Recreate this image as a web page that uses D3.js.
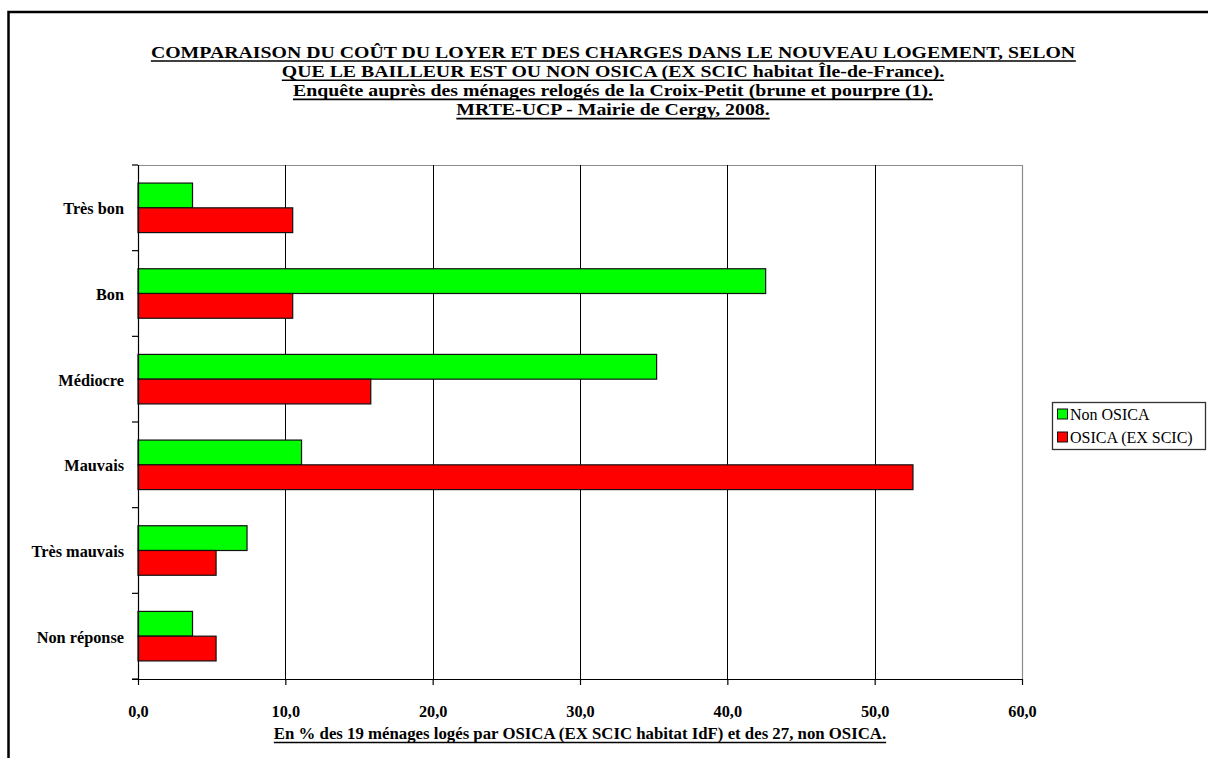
<!DOCTYPE html>
<html>
<head>
<meta charset="utf-8">
<script src="https://cdn.jsdelivr.net/npm/d3@7"></script>
<style>
  html, body { margin: 0; padding: 0; background: #fff; }
  svg { display: block; }
  text { font-family: "Liberation Serif", "Times New Roman", serif; }
</style>
</head>
<body>
<svg id="chart" width="1208" height="758"></svg>
<script>
const titleLines = [
  "COMPARAISON DU COÛT DU LOYER ET DES CHARGES DANS LE NOUVEAU LOGEMENT, SELON",
  "QUE LE BAILLEUR EST OU NON OSICA (EX SCIC habitat Île-de-France).",
  "Enquête auprès des ménages relogés de la Croix-Petit (brune et pourpre (1).",
  "MRTE-UCP - Mairie de Cergy, 2008."
];
const categories = ["Très bon", "Bon", "Médiocre", "Mauvais", "Très mauvais", "Non réponse"];
const seriesNames = ["Non OSICA", "OSICA (EX SCIC)"];
const nonOsica = [3.7, 42.6, 35.2, 11.1, 7.4, 3.7];
const osica = [10.5, 10.5, 15.8, 52.6, 5.3, 5.3];
const xTicks = [0, 10, 20, 30, 40, 50, 60];
const xAxisTitle = "En % des 19 ménages logés par OSICA (EX SCIC habitat IdF) et des 27, non OSICA.";

const colors = ["#00FF00", "#FF0000"];
const series = [nonOsica, osica];

const svg = d3.select("#chart");
const W = 1208, H = 758;
const plot = { left: 138, right: 1022, top: 165, bottom: 679 };

// outer frame
svg.append("path")
  .attr("d", `M8.5,${H + 5} L8.5,12 L${W + 5},12`)
  .attr("fill", "none").attr("stroke", "#000").attr("stroke-width", 2.5);

const x = d3.scaleLinear().domain([0, 60]).range([plot.left, plot.right]);
const y = d3.scaleBand().domain(categories).range([plot.top, plot.bottom]);
const step = y.step();
const barH = step * 0.289;

// plot border (grey top/right)
svg.append("path")
  .attr("d", `M${plot.left},${plot.top + 0.5} L${plot.right + 0.5},${plot.top + 0.5} L${plot.right + 0.5},${plot.bottom}`)
  .attr("fill", "none").attr("stroke", "#8c8c8c").attr("stroke-width", 1.2);

// gridlines
svg.append("g").selectAll("line")
  .data(xTicks.filter(d => d > 0 && d < 60))
  .join("line")
  .attr("x1", d => Math.round(x(d)) + 0.5).attr("x2", d => Math.round(x(d)) + 0.5)
  .attr("y1", plot.top).attr("y2", plot.bottom)
  .attr("stroke", "#000").attr("stroke-width", 1);

// bars
categories.forEach((c, i) => {
  const y0 = y(c) + (step - 2 * barH) / 2;
  series.forEach((s, k) => {
    svg.append("rect")
      .attr("x", x(0))
      .attr("y", y0 + k * barH)
      .attr("width", x(s[i]) - x(0))
      .attr("height", barH)
      .attr("fill", colors[k])
      .attr("stroke", "#111").attr("stroke-width", 1.2);
  });
});

// left axis: line + boundary ticks
const yAxisG = svg.append("g");
yAxisG.append("line")
  .attr("x1", plot.left + 0.5).attr("x2", plot.left + 0.5)
  .attr("y1", plot.top).attr("y2", plot.bottom)
  .attr("stroke", "#000").attr("stroke-width", 1.2);
yAxisG.selectAll("line.b")
  .data(d3.range(categories.length + 1))
  .join("line").attr("class", "b")
  .attr("x1", plot.left - 6).attr("x2", plot.left)
  .attr("y1", i => plot.top + i * step).attr("y2", i => plot.top + i * step)
  .attr("stroke", "#000").attr("stroke-width", 1.2);

// category labels via axis
const yLab = svg.append("g")
  .attr("transform", `translate(${plot.left},0)`)
  .call(d3.axisLeft(y).tickSize(0).tickPadding(14));
yLab.select(".domain").remove();
yLab.selectAll("text")
  .attr("font-family", "Liberation Serif, Times New Roman, serif")
  .attr("font-size", 16.3).attr("font-weight", "bold").attr("fill", "#000")
  .attr("dy", "0.4em");

// bottom axis
const fmt = d => d3.format(".1f")(d).replace(".", ",");
const xAx = svg.append("g")
  .attr("transform", `translate(0,${plot.bottom})`)
  .call(d3.axisBottom(x).tickValues(xTicks).tickSize(6).tickPadding(20).tickFormat(fmt));
xAx.select(".domain").attr("stroke-width", 1.2).attr("d", `M${plot.left - 6},0.5H${plot.right}`);
xAx.selectAll(".tick line").attr("stroke-width", 1.2);
xAx.selectAll("text")
  .attr("font-family", "Liberation Serif, Times New Roman, serif")
  .attr("font-size", 16.3).attr("font-weight", "bold").attr("fill", "#000");

// helper for underlined text (optionally stretched horizontally)
function underlined(txt, cx, by, size, weight, sx) {
  const g = svg.append("g").attr("transform", `translate(${cx},${by}) scale(${sx},1)`);
  const t = g.append("text")
    .attr("x", 0).attr("y", 0)
    .attr("text-anchor", "middle")
    .attr("font-size", size).attr("font-weight", weight)
    .attr("fill", "#000")
    .text(txt);
  const bb = t.node().getBBox();
  g.append("line")
    .attr("x1", bb.x).attr("x2", bb.x + bb.width)
    .attr("y1", 3.5).attr("y2", 3.5)
    .attr("stroke", "#000").attr("stroke-width", 1.6);
}

// title
titleLines.forEach((l, i) => underlined(l, 613, 57.5 + i * 19.2, 16.8, "bold", 19.8 / 16.8));

// x-axis title
underlined(xAxisTitle, (plot.left + plot.right) / 2, 739, 16.8, "bold", 1);

// legend
const lg = { x: 1052, y: 402, w: 153, h: 47 };
svg.append("rect")
  .attr("x", lg.x + 0.5).attr("y", lg.y + 0.5).attr("width", lg.w).attr("height", lg.h)
  .attr("fill", "#fff").attr("stroke", "#333").attr("stroke-width", 1.3);
seriesNames.forEach((n, k) => {
  const cy = lg.y + 12 + k * 23;
  svg.append("rect")
    .attr("x", lg.x + 5.5).attr("y", cy - 5).attr("width", 10).attr("height", 10)
    .attr("fill", colors[k]).attr("stroke", "#111").attr("stroke-width", 1);
  svg.append("text")
    .attr("x", lg.x + 18).attr("y", cy + 5.5)
    .attr("font-size", 16).attr("fill", "#000")
    .text(n);
});
</script>
</body>
</html>
